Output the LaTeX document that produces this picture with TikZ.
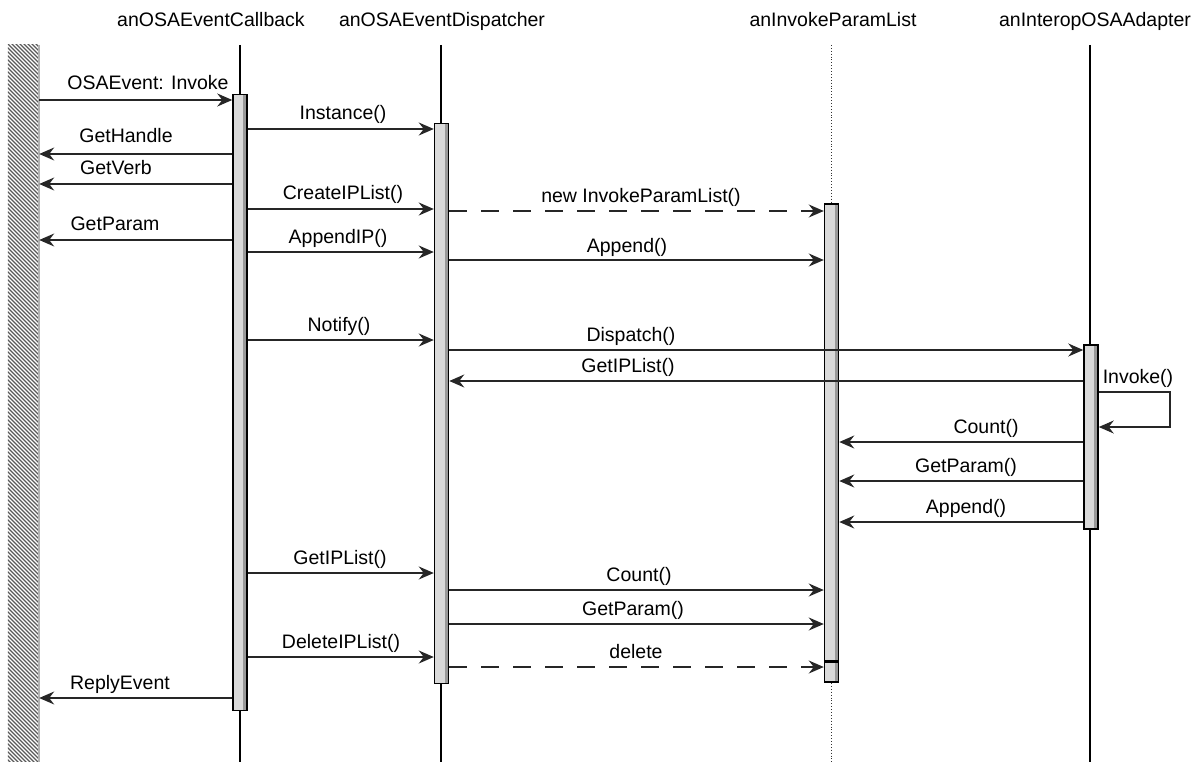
\documentclass[tikz,border=0pt]{standalone}
\usepackage{fontspec}
\setmainfont{Liberation Sans}
\usetikzlibrary{arrows.meta}
\begin{document}
\begin{tikzpicture}[x=1pt,y=-1pt,
  every node/.style={font=\fontsize{19.5}{23}\selectfont, inner sep=0pt},
  lifeline/.style={line width=1.4pt, black},
  msg/.style={line width=1.2pt, draw=black!85, -{Stealth[length=15pt,width=13pt,inset=5pt]}},
  reply/.style={msg, dash pattern=on 18pt off 14pt},
  lbl/.style={anchor=base},
  actbar/.style={draw=black, line width=1.5pt, fill=black!15, minimum width=14pt, inner sep=0pt,
    path picture={\fill[black!40] ([xshift=-4pt]path picture bounding box.north east) rectangle (path picture bounding box.south east);}},
  envbox/.style={minimum width=31pt, inner sep=0pt},
]
\useasboundingbox (0,0) rectangle (1198,762);

% environment (external caller), hatched
\node[envbox, minimum height=717pt] (env) at (23.5,403.5) {};
\begin{scope}
  \clip (env.north west) rectangle (env.south east);
  \foreach \i in {-40,-36,...,800}{\draw[black!65, line width=1.3pt] (0,\i) -- ++(60,60);}
\end{scope}
\draw[black!30, line width=2pt] (env.north east) -- (env.south east);

% object headers
\node[lbl] (h1) at (211,27) {anOSAEventCallback};
\node[lbl] (h2) at (442,27) {anOSAEventDispatcher};
\node[lbl] (h3) at (833,27) {anInvokeParamList};
\node[lbl] (h4) at (1095,27) {anInteropOSAAdapter};

% lifelines
\coordinate (l1t) at (240,45);  \coordinate (l1b) at (240,762);
\coordinate (l2t) at (441,45);  \coordinate (l2b) at (441,762);
\coordinate (l3t) at (831,45);  \coordinate (l3b) at (831,762);
\coordinate (l4t) at (1090,45); \coordinate (l4b) at (1090,762);
\draw[lifeline] (l1t) -- (l1b);
\draw[lifeline] (l2t) -- (l2b);
\draw[black!80, line width=0.9pt, dotted] (l3t) -- (l3b);
\draw[lifeline] (l4t) -- (l4b);

% activation bars
\node[actbar, minimum height=616pt] (b1) at (240,402.5) {};
\node[actbar, minimum height=560pt] (b2) at (441.5,403.5) {};
\node[actbar, minimum height=478pt] (b3) at (831.5,443) {};
\node[actbar, minimum height=184pt] (b4) at (1091,437) {};
\draw[line width=3pt] (b3.west |- 0,661) -- (b3.east |- 0,661);

% messages
\draw[msg] (env.east |- 0,100) -- (b1.west |- 0,100);
\node[lbl] (t1) at (148,90) {OSAEvent: Invoke};
\draw[msg] (b1.east |- 0,129) -- (b2.west |- 0,129);
\node[lbl] (t2) at (343,120) {Instance()};
\draw[msg] (b1.west |- 0,154) -- (env.east |- 0,154);
\node[lbl] (t3) at (126,143) {GetHandle};
\draw[msg] (b1.west |- 0,184) -- (env.east |- 0,184);
\node[lbl] (t4) at (116,175) {GetVerb};
\draw[msg] (b1.east |- 0,209) -- (b2.west |- 0,209);
\node[lbl] (t5) at (343,200) {CreateIPList()};
\draw[reply] (b2.east |- 0,211) -- (b3.west |- 0,211);
\node[lbl] (t6) at (641,202) {new InvokeParamList()};
\draw[msg] (b1.west |- 0,240) -- (env.east |- 0,240);
\node[lbl] (t7) at (115,230) {GetParam};
\draw[msg] (b1.east |- 0,252) -- (b2.west |- 0,252);
\node[lbl] (t8) at (338,243) {AppendIP()};
\draw[msg] (b2.east |- 0,260) -- (b3.west |- 0,260);
\node[lbl] (t9) at (627,252) {Append()};
\draw[msg] (b1.east |- 0,340) -- (b2.west |- 0,340);
\node[lbl] (t10) at (339,331) {Notify()};
\draw[msg] (b2.east |- 0,350) -- (b4.west |- 0,350);
\node[lbl] (t11) at (631,341) {Dispatch()};
\draw[msg] (b4.west |- 0,381) -- (b2.east |- 0,381);
\node[lbl] (t12) at (628,372) {GetIPList()};

% self call
\coordinate (loopR) at (1170,392);
\draw[msg] (b4.east |- 0,392) -- (loopR) |- (b4.east |- 0,427);
\node[lbl] (t13) at (1138,383) {Invoke()};

\draw[msg] (b4.west |- 0,442) -- (b3.east |- 0,442);
\node[lbl] (t14) at (986,433) {Count()};
\draw[msg] (b4.west |- 0,481) -- (b3.east |- 0,481);
\node[lbl] (t15) at (966,472) {GetParam()};
\draw[msg] (b4.west |- 0,522) -- (b3.east |- 0,522);
\node[lbl] (t16) at (966,513) {Append()};

\draw[msg] (b1.east |- 0,573) -- (b2.west |- 0,573);
\node[lbl] (t17) at (340,564) {GetIPList()};
\draw[msg] (b2.east |- 0,590) -- (b3.west |- 0,590);
\node[lbl] (t18) at (639,581) {Count()};
\draw[msg] (b2.east |- 0,624) -- (b3.west |- 0,624);
\node[lbl] (t19) at (633,615) {GetParam()};
\draw[msg] (b1.east |- 0,657) -- (b2.west |- 0,657);
\node[lbl] (t20) at (341,648) {DeleteIPList()};
\draw[reply] (b2.east |- 0,667) -- (b3.west |- 0,667);
\node[lbl] (t21) at (636,658) {delete};
\draw[msg] (b1.west |- 0,698) -- (env.east |- 0,698);
\node[lbl] (t22) at (120,689) {ReplyEvent};
\end{tikzpicture}
\end{document}
